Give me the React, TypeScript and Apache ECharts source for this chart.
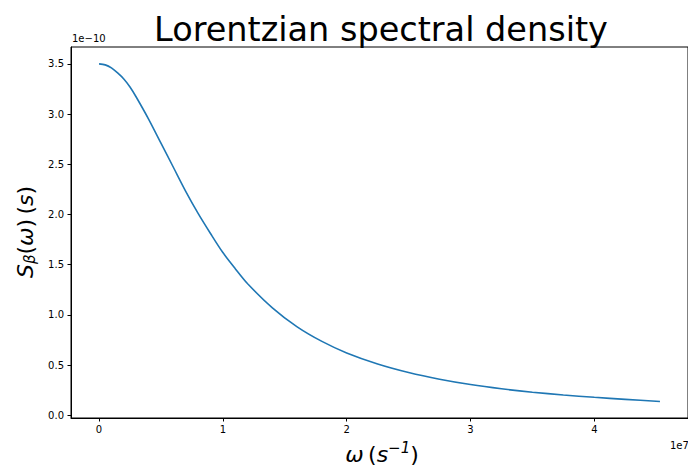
import React, { useEffect, useRef } from "react";
import * as echarts from "echarts";

// omega in units of 1e7 s^-1, S in units of 1e-10 s
const omega = [0, 0.05, 0.1, 0.15, 0.2, 0.25, 0.3, 0.4, 0.5, 0.6, 0.7, 0.8, 0.9, 1.0, 1.1, 1.2, 1.4, 1.6, 1.8, 2.0, 2.25, 2.5, 2.75, 3.0, 3.25, 3.5, 3.75, 4.0, 4.25, 4.53];
const density = [3.5, 3.49, 3.46, 3.41, 3.35, 3.27, 3.17, 2.95, 2.71, 2.47, 2.23, 2.01, 1.81, 1.62, 1.46, 1.31, 1.07, 0.88, 0.735, 0.62, 0.51, 0.425, 0.358, 0.305, 0.263, 0.229, 0.201, 0.178, 0.158, 0.137];
const xTicks = [0, 1, 2, 3, 4];
const yTicks = [0, 0.5, 1.0, 1.5, 2.0, 2.5, 3.0, 3.5];

const FONT = "DejaVu Sans";

export default function App() {
  const ref = useRef<HTMLDivElement>(null);
  useEffect(() => {
    if (!ref.current) return;
    const chart = echarts.init(ref.current, null, { renderer: "svg" });
    chart.setOption({
      animation: false,
      backgroundColor: "#ffffff",
      graphic: [
        {
          type: "text",
          x: 381,
          y: 29,
          style: {
            text: "Lorentzian spectral density",
            align: "center",
            verticalAlign: "middle",
            fontFamily: FONT,
            fontSize: 33.5,
            fill: "#000",
          },
        },
        { type: "text", left: 72, top: 33, style: { text: "1e\u221210", fontFamily: FONT, fontSize: 10, fill: "#000" } },
        { type: "text", left: 670, top: 440, style: { text: "1e7", fontFamily: FONT, fontSize: 10, fill: "#000" } },
        {
          type: "text",
          x: 382,
          y: 454,
          style: {
            text: "{i|\u03c9}{n|\u2009(}{i|s}{sup|\u22121}{n|)}",
            align: "center",
            verticalAlign: "middle",
            fill: "#000",
            rich: {
              i: { fontFamily: FONT, fontSize: 22, fontStyle: "italic", fill: "#000" },
              n: { fontFamily: FONT, fontSize: 22, fill: "#000" },
              sup: { fontFamily: FONT, fontSize: 15, fontStyle: "italic", fill: "#000", padding: [0, 0, 12, 0] },
            },
          },
        },
        {
          type: "text",
          x: 25,
          y: 232,
          rotation: Math.PI / 2,
          style: {
            text: "{i|S}{sub|\u03b2}{n|(}{i|\u03c9}{n|)\u2009(}{i|s}{n|)}",
            align: "center",
            verticalAlign: "middle",
            fill: "#000",
            rich: {
              i: { fontFamily: FONT, fontSize: 22, fontStyle: "italic", fill: "#000" },
              n: { fontFamily: FONT, fontSize: 22, fill: "#000" },
              sub: { fontFamily: FONT, fontSize: 15, fontStyle: "italic", fill: "#000", padding: [10, 0, 0, 0] },
            },
          },
        },
      ],
      grid: { left: 71, top: 47, width: 621, height: 371, show: true, borderColor: "#000", borderWidth: 1, backgroundColor: "transparent" },
      xAxis: {
        type: "value",
        min: -0.2265,
        max: 4.7565,
        splitLine: { show: false },
        axisLine: { show: true, onZero: false, lineStyle: { color: "#000", width: 1 } },
        axisTick: { show: true, length: 3.5, customValues: xTicks, lineStyle: { color: "#000" } },
        axisLabel: { customValues: xTicks, fontFamily: FONT, fontSize: 10, color: "#000", margin: 6, formatter: (v: number) => String(Math.round(v)) },
      },
      yAxis: {
        type: "value",
        min: -0.028,
        max: 3.668,
        splitLine: { show: false },
        axisLine: { show: true, onZero: false, lineStyle: { color: "#000", width: 1 } },
        axisTick: { show: true, length: 3.5, customValues: yTicks, lineStyle: { color: "#000" } },
        axisLabel: { customValues: yTicks, fontFamily: FONT, fontSize: 10, color: "#000", margin: 7, formatter: (v: number) => v.toFixed(1) },
      },
      series: [
        {
          type: "line",
          data: omega.map((w, i) => [w, density[i]]),
          showSymbol: false,
          smooth: 0.3,
          lineStyle: { color: "#1f77b4", width: 1.6 },
          itemStyle: { color: "#1f77b4" },
        },
      ],
    });
    return () => chart.dispose();
  }, []);
  return <div ref={ref} style={{ width: 688, height: 466, position: "absolute", left: 0, top: 0 }} />;
}
